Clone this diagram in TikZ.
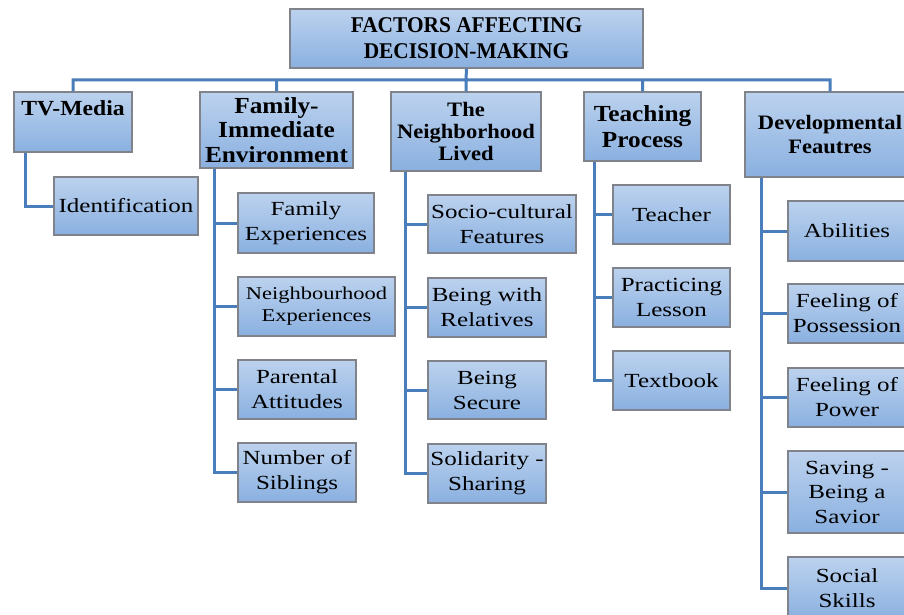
\documentclass[tikz,border=0pt]{standalone}
\usepackage{fontspec}
\setmainfont{Liberation Serif}[FakeStretch=1.25]
\newfontfamily\hdrfont{Liberation Serif}[FakeStretch=1.1]
\newfontfamily\rootfont{Liberation Serif}[FakeStretch=0.95]
\definecolor{boxtop}{RGB}{188,210,238}
\definecolor{boxbot}{RGB}{138,176,224}
\definecolor{boxline}{RGB}{128,132,138}
\definecolor{connc}{RGB}{74,126,187}
\newcommand{\fs}[2]{\fontsize{#1}{#2}\selectfont}
\tikzset{
  box/.style={draw=boxline, line width=1.1pt, top color=boxtop, bottom color=boxbot,
    rectangle, inner sep=0pt, align=center, text=black, font=\fs{20}{25}},
  hdr/.style={box, font=\hdrfont\bfseries\fs{22.5}{25}},
  conn/.style={draw=connc, line width=3pt},
  plain/.style={inner sep=0pt, align=center, text=black}
}
\begin{document}
\begin{tikzpicture}[x=1pt,y=-1pt]
\useasboundingbox[fill=white] (0,0) rectangle (904,615);
\coordinate (bar) at (466,80);
% level-1 boxes
\node[hdr, font=\rootfont\bfseries\fs{22.5}{26}, minimum width=353pt, minimum height=59pt] (root) at (466.5,38.5) {FACTORS AFFECTING\\DECISION-MAKING};
\node[hdr, minimum width=118pt, minimum height=60pt] (tv) at (73,122) {};
\node[plain, font=\hdrfont\bfseries\fs{21.5}{25}] (tvtext) at (73,108) {TV-Media};
\node[hdr, font=\hdrfont\bfseries\fs{23}{24.5}, minimum width=153pt, minimum height=76pt] (fam) at (276.5,130) {Family-\\Immediate\\Environment};
\node[hdr, font=\hdrfont\bfseries\fs{20.5}{22}, minimum width=150pt, minimum height=79pt] (nbh) at (466,131.5) {The\\Neighborhood\\Lived};
\node[hdr, font=\hdrfont\bfseries\fs{23}{26}, minimum width=117pt, minimum height=69pt] (tch) at (642.5,126.5) {Teaching\\Process};
\node[hdr, font=\hdrfont\bfseries\fs{20.5}{24}, minimum width=170pt, minimum height=85pt] (dev) at (830,134.5) {Developmental\\Feautres};
% children
\node[box, minimum width=144pt, minimum height=58pt] (ident) at (126,206) {Identification};
\node[box, minimum width=136pt, minimum height=60pt] (fexp) at (306,223) {Family\\Experiences};
\node[box, font=\fs{18}{22}, minimum width=157pt, minimum height=59pt] (nexp) at (316.5,306.5) {Neighbourhood\\Experiences};
\node[box, minimum width=118pt, minimum height=59pt] (patt) at (297,389.5) {Parental\\Attitudes};
\node[box, minimum width=118pt, minimum height=59pt] (nsib) at (297,472.5) {Number of\\Siblings};
\node[box, minimum width=148pt, minimum height=58pt] (socio) at (502,224) {Socio-cultural\\Features};
\node[box, minimum width=118pt, minimum height=59pt] (rel) at (487,307.5) {Being with\\Relatives};
\node[box, minimum width=118pt, minimum height=58pt] (sec) at (487,390) {Being\\Secure};
\node[box, minimum width=118pt, minimum height=59pt] (sol) at (487,473.5) {Solidarity -\\Sharing};
\node[box, minimum width=117pt, minimum height=59pt] (teacher) at (671.5,214.5) {Teacher};
\node[box, minimum width=117pt, minimum height=59pt] (prac) at (671.5,297.5) {Practicing\\Lesson};
\node[box, minimum width=117pt, minimum height=59pt] (tbook) at (671.5,380.5) {Textbook};
\node[box, minimum width=118pt, minimum height=60pt] (abil) at (847,231) {Abilities};
\node[box, minimum width=118pt, minimum height=59pt] (poss) at (847,313.5) {Feeling of\\Possession};
\node[box, minimum width=118pt, minimum height=59pt] (power) at (847,397.5) {Feeling of\\Power};
\node[box, minimum width=118pt, minimum height=82pt, font=\fs{20}{24.5}] (saving) at (847,492) {Saving -\\Being a\\Savior};
\node[box, minimum width=118pt, minimum height=63pt] (social) at (847,588.5) {Social\\Skills};
% top connectors
\draw[conn] (tv.north) |- (bar) -| (dev.north)
  (root.south) -- (bar)
  (fam.north) -- (fam.north |- bar)
  (nbh.north) -- (nbh.north |- bar)
  (tch.north) -- (tch.north |- bar);
% child connectors
\coordinate (tvl) at ([xshift=12pt]tv.south west);
\coordinate (faml) at ([xshift=15pt]fam.south west);
\coordinate (nbhl) at ([xshift=15pt]nbh.south west);
\coordinate (tchl) at ([xshift=11pt]tch.south west);
\coordinate (devl) at ([xshift=17pt]dev.south west);
\draw[conn] (tvl) |- (ident.west);
\draw[conn] (faml) |- (nsib.west)
  (fexp.west -| faml) -- (fexp.west)
  (nexp.west -| faml) -- (nexp.west)
  (patt.west -| faml) -- (patt.west);
\draw[conn] (nbhl) |- (sol.west)
  (socio.west -| nbhl) -- (socio.west)
  (rel.west -| nbhl) -- (rel.west)
  (sec.west -| nbhl) -- (sec.west);
\draw[conn] (tchl) |- (tbook.west)
  (teacher.west -| tchl) -- (teacher.west)
  (prac.west -| tchl) -- (prac.west);
\draw[conn] (devl) |- (social.west)
  (abil.west -| devl) -- (abil.west)
  (poss.west -| devl) -- (poss.west)
  (power.west -| devl) -- (power.west)
  (saving.west -| devl) -- (saving.west);
\end{tikzpicture}
\end{document}
